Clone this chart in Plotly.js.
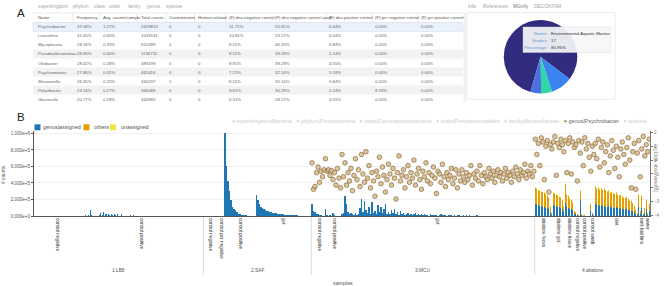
<!DOCTYPE html>
<html><head><meta charset="utf-8">
<script src="https://cdn.plot.ly/plotly-3.0.1.min.js"></script>
<style>html,body{margin:0;padding:0;background:#fff;}#chart{width:665px;height:286px;}</style>
</head><body><div id="chart"></div>
<script>
// ---------------- Panel A: table ----------------
const taxTabs = ['superkingdom','phylum','class','order','family','genus','species'];
const infoTabs = ['Info','References','MGnify','DECONTAM'];
const tableColumns = ['Name','Frequency','Avg. counts/sample','Total counts','Contaminants','Human-related','(F) dna negative control','(F) dna negative control swab','(F) dna positive control','(F) pcr negative control','(F) pcr positive control'];
const genusNames = ['Psychrobacter','Leucothrix','Mycoplasma','Pseudoalteromonas','Oleibacter','Psychromonas','Shewanella','Polaribacter','Glaciecola'];
const genusFrequency = ['37.08%','31.65%','28.16%','28.90%','28.42%','27.86%','26.35%','23.14%','20.77%'];
const genusAvgCounts = ['1.27%','0.60%','0.33%','0.60%','0.28%','0.31%','0.25%','0.27%','0.18%'];
const genusTotalCounts = ['2459813','1033531','612499','1136731','489199','465416','340237','366088','342893'];
const genusContaminants = ['0','0','0','0','0','0','1','0','0'];
const genusHumanRelated = ['0','0','0','0','0','0','0','0','0'];
const dnaNegControl = ['11.71%','10.81%','8.11%','8.11%','8.91%','7.21%','8.11%','9.61%','6.31%'];
const dnaNegControlSwab = ['55.65%','53.57%','46.43%','39.29%','39.29%','32.14%','32.14%','30.29%','28.57%'];
const dnaPosControl = ['6.44%','6.04%','6.84%','5.24%','4.55%','5.59%','6.84%','5.24%','4.55%'];
const pcrNegControl = ['0.00%','0.00%','0.00%','0.00%','0.00%','0.00%','0.00%','8.33%','0.00%'];
const pcrPosControl = ['0.00%','0.00%','0.00%','0.00%','0.00%','0.00%','0.00%','0.00%','0.00%'];

// ---------------- Panel A: pie (MGnify biomes) ----------------
const biomeNames = ['Environmental:Aquatic:Marine','Environmental:Aquatic:Marine:Coastal','Host-associated:Mammals','Environmental:Aquatic:Freshwater'];
const biomeStudies = [17, 2, 1, 1];
const biomeColors = ['#312c7e','#3c83f2','#2fd6a6','#4a70e2'];

// ---------------- Panel B: samples ----------------
const projects = ['1.LB8','2.SAF','3.MCU','4.abalone'];
const lb8Types = ['control negative','control positive'];
const lb8TypeCounts = [31, 82];
const safTypes = ['control negative','control pcr negative','control positive','gut'];
const safTypeCounts = [10, 4, 21, 37];
const mcuTypes = ['control negative','control positive','gut'];
const mcuTypeCounts = [11, 9, 129];
const abaloneTypes = ['abalone feces','abalone gut','abalone tissue','control negative','control positive','control swab','diet','tank biofilms','water'];
const abaloneTypeCounts = [12, 8, 7, 3, 7, 3, 29, 5, 3];

// genus|assigned counts (thousands) per sample
const lb8Assigned = [0,0,0,0,0,0,0,0,0,0,0,0,0,0,0,0,0,0,0,0,0,0,0,0,0,0,0,0,0,0,0,
  0,0,0,8,3,15,70,12,4,2,0,3,10,42,8,48,20,26,30,18,26,14,24,10,22,6,4,20,3,2,5,1,2,9,2,8,1,
  0,0,0,0,0,0,0,0,0,0,0,0,0,0,0,0,0,0,0,0,0,0,0,0,0,0,0,0,0,0,0,0,0,0,0,0,0,0,0,0,0,0,0,0,0];
const safAssigned = [0,0,0,0,0,0,0,0,0,0, 0,0,0,0,
  1010,600,420,300,200,110,80,70,45,30,20,15,12,10,8,6,5,4,3,2,2,
  255,190,140,115,100,85,75,65,55,50,45,40,38,35,30,28,25,22,20,18,16,14,12,11,10,9,8,7,6,5,5,4,3,3,2,2,1];
const mcuAssigned = [150,60,45,30,20,12,8,6,4,90,10, 5,10,3,40,8,2,4,2,3,
  20,35,240,150,50,25,40,20,12,35,15,25,100,210,50,180,70,35,110,25,170,40,60,20,130,50,115,35,80,150,
  30,50,20,70,40,85,25,45,18,60,20,35,12,25,40,18,30,12,20,35,10,25,15,20,8,30,12,18,6,24,
  10,15,8,18,6,12,20,8,10,15,5,12,7,16,6,10,4,8,12,5,6,10,3,7,5,8,4,6,2,5,
  8,3,4,6,2,4,6,2,3,5,2,3,4,2,2,3,2,2,2,1,2,2,1,2,1,2,1,1,2,1,1,1,0,1,0,1,0,0,1];
const abaloneAssigned = [150,140,130,120,125,110,115,100,95,90,50,15, 130,120,125,110,105,100,90,50,
  160,110,100,90,85,70,25, 30,15,5, 200,12,6,5,3,2,2, 60,20,5,
  140,130,135,125,130,120,125,115,110,118,105,110,100,98,104,95,90,96,88,85,80,86,76,70,65,58,44,30,15,
  110,25,100,12,40, 80,15,60];
const abaloneOthers = [185,183,176,180,163,175,159,161,150,132,65,23, 148,150,134,131,125,121,102,65,
  225,150,140,122,107,93,32, 17,13,4, 105,7,3,3,2,2,1, 85,18,5,
  208,200,204,195,203,191,200,186,182,187,177,176,173,165,173,158,154,162,146,139,135,143,129,115,111,98,73,48,24,
  150,33,142,17,57, 114,24,85];
const abaloneUnassigned = [15,12,14,10,12,10,11,9,10,8,5,2, 12,10,11,9,10,9,8,5,
  15,10,10,8,8,7,3, 3,2,1, 5,1,1,0,0,0,0, 5,2,0,
  12,10,11,10,12,9,10,9,8,10,8,9,7,7,8,7,6,7,6,6,5,6,5,5,4,4,3,2,1,
  10,2,8,1,3, 6,1,5];

// genus|Psychrobacter, log10(% observations) per sample
const mcuPsychro = [-0.2,-2.1,-1.9,-0.9,-0.5,-1.6,-0.8,-1.2,-0.7,0.1,-0.8,
  -0.7,-1.1,-0.75,-1.4,-0.9,-1.8,-0.6,-1.3,-2.0,
  0.4,-1.2,-0.2,-1.8,-0.9,-1.5,-0.6,-2.2,-1.1,0.1,
  -1.4,-0.7,-1.9,0.4,-1.0,-1.6,0.6,-1.3,-0.4,-2.0,
  -0.9,-1.5,-2.6,-0.8,-1.2,0.2,-1.7,-0.5,-1.1,-2.3,
  -1.4,-0.3,-1.0,-1.8,-0.6,-1.3,-2.8,-0.9,0.3,-1.5,
  -1.1,-0.7,-2.0,-1.2,-0.4,-1.6,-0.9,-1.3,0.0,-1.8,
  -1.0,-0.6,-1.4,-2.1,-0.8,-1.2,-0.2,-1.5,-0.9,-1.7,
  -1.1,-0.5,-1.3,-2.4,-0.8,-1.0,-1.6,-0.3,-1.2,-1.9,
  -0.9,-1.4,-1.1,-0.6,-1.7,-1.3,-0.7,-2.0,-1.0,-1.5,
  -0.7,-1.2,-1.6,-0.9,-1.4,-1.1,-0.4,-1.8,-1.0,-1.3,
  -0.8,-1.5,-0.4,-1.1,-1.7,-0.9,-1.2,-1.4,-0.6,-1.0,
  -1.3,-0.8,-1.6,-1.1,-0.7,-1.2,-0.9,-1.5,-1.0,-0.6,
  -1.3,-0.9,-1.1,-1.6,-0.8,-1.2,-0.5,-1.0,-1.4,-0.7,
  -1.1,-0.9,-0.3,-1.3,-0.8,-1.0,-0.4,-1.2,-0.8];
const abalonePsychro = [1.5,0.4,1.2,-0.4,1.6,1.3,-1.4,1.0,1.4,-2.3,1.1,0.8,
  1.3,1.7,-1.1,1.2,0.9,1.5,1.1,0.6,
  1.4,-0.9,1.2,1.6,-1.0,1.3,0.9,
  1.1,-1.5,1.4,
  0.5,1.3,-0.4,1.6,0.8,1.2,0.2,
  -0.8,1.0,0.4,
  1.2,0.1,1.5,-0.5,0.9,1.3,-0.2,0.6,1.1,-0.9,0.3,1.4,0.7,-0.6,1.0,0.2,-1.2,0.8,1.3,0.4,-0.3,0.9,1.6,0.0,-2.0,0.6,1.2,-2.1,0.5,
  1.4,-1.2,0.8,1.7,0.3,
  1.1,0.6,1.5];

const barLegend = ['genus|assigned','others','unassigned'];
const barColors = ['#1f77b4','#e69f00','#f0e442'];
const taxLegend = ['superkingdom|Bacteria','phylum|Proteobacteria','class|Gammaproteobacteria','order|Pseudomonadales','family|Moraxellaceae','genus|Psychrobacter','species'];
const tooltipLabels = ['Biome:','Studies:','Percentage:'];

// ---------------- build ----------------
const FONT = 'Liberation Sans, Arial, sans-serif';
const W = 665, H = 286;
const P = x => x / W, Q = y => 1 - y / H;
function note(x, y, text, size, color, extra) {
  return Object.assign({xref:'paper', yref:'paper', x:P(x), y:Q(y), text:text, showarrow:false,
    xanchor:'left', yanchor:'middle', borderpad:0, font:{family:FONT, size:size, color:color}}, extra || {});
}
const annotations = [], shapes = [];

// panel labels
annotations.push(note(21, 13.3, 'A', 11.5, '#222', {xanchor:'center'}));
annotations.push(note(21, 117, 'B', 11.5, '#222', {xanchor:'center'}));

// tabs
const taxTabX = [36.7, 71.7, 92.7, 108.3, 126.7, 145.7, 165];
taxTabs.forEach((t,i) => annotations.push(note(taxTabX[i], 6.8, t, 4.8, '#a8a8a8')));
const infoTabX = [467.3, 481.7, 511.5, 533.3];
infoTabs.forEach((t,i) => annotations.push(note(infoTabX[i], 6.8, t, 4.8, i===2 ? '#777' : '#a0a0a0')));

// table
const colX = [36.5, 76, 101.5, 140, 167.5, 196.5, 228, 273.5, 328, 374, 420];
const colSep = [73, 99, 137, 166, 194.5, 226, 272, 326, 372, 418];
const tableLeft = 33, tableRight = 463;
const tableData = [genusNames, genusFrequency, genusAvgCounts, genusTotalCounts, genusContaminants, genusHumanRelated,
  dnaNegControl, dnaNegControlSwab, dnaPosControl, pcrNegControl, pcrPosControl];
genusNames.forEach((g,r) => {
  const y0 = 22.5 + 9*r, y1 = y0 + 9;
  if (r === 0) shapes.push({type:'rect', xref:'paper', yref:'paper', x0:P(tableLeft), x1:P(tableRight), y0:Q(y1), y1:Q(y0), fillcolor:'#e9f1fb', line:{color:'#d3e2f3', width:0.6}, layer:'below'});
  else if (r === 3 || r === 5 || r === 7) shapes.push({type:'rect', xref:'paper', yref:'paper', x0:P(tableLeft), x1:P(tableRight), y0:Q(y1), y1:Q(y0), fillcolor:'#f2f2f2', line:{width:0}, layer:'below'});
});
[13, 22.5].forEach(y => shapes.push({type:'line', xref:'paper', yref:'paper', x0:P(tableLeft), x1:P(tableRight), y0:Q(y), y1:Q(y), line:{color:'#e2e2e2', width:0.7}}));
colSep.forEach(x => shapes.push({type:'line', xref:'paper', yref:'paper', x0:P(x), x1:P(x), y0:Q(13), y1:Q(22.5), line:{color:'#e2e2e2', width:0.7}}));
shapes.push({type:'rect', xref:'paper', yref:'paper', x0:P(463.5), x1:P(466), y0:Q(102), y1:Q(13), fillcolor:'#f0f0f0', line:{width:0}, layer:'below'});
tableColumns.forEach((c,i) => annotations.push(note(colX[i], 17.8, c, 4.3, '#555')));
tableData.forEach((col,i) => col.forEach((v,r) => annotations.push(note(colX[i], 27 + 9*r, v, 4.3, '#666'))));

// pie box + tooltip
shapes.push({type:'rect', xref:'paper', yref:'paper', x0:P(467), x1:P(615), y0:Q(99.3), y1:Q(12.7), line:{color:'#e4e4e4', width:0.8}, layer:'below'});
shapes.push({type:'rect', xref:'paper', yref:'paper', x0:P(523), x1:P(611), y0:Q(52.5), y1:Q(27), fillcolor:'rgba(245,246,248,0.93)', line:{color:'rgba(215,215,215,0.8)', width:0.5}, layer:'above'});
const totalStudies = biomeStudies.reduce((a,b)=>a+b,0);
const tooltipValues = [biomeNames[0], String(biomeStudies[0]), (100*biomeStudies[0]/totalStudies).toFixed(2) + '%'];
tooltipLabels.forEach((l,i) => {
  annotations.push(note(548.8, 33.3 + 6.9*i, l, 4.4, '#5f9bd3', {xanchor:'right'}));
  annotations.push(note(549.8, 33.3 + 6.9*i, tooltipValues[i], 4.4, '#333'));
});

// samples -> positions
const projectTypes = [lb8Types, safTypes, mcuTypes, abaloneTypes];
const projectTypeCounts = [lb8TypeCounts, safTypeCounts, mcuTypeCounts, abaloneTypeCounts];
const projectAssigned = [lb8Assigned, safAssigned, mcuAssigned, abaloneAssigned];
let idx = 0;
const sampleX = [], assignedY = [], tickvals = [], ticktext = [], groupCenters = [], groupBounds = [], projectStart = [];
projects.forEach((p,pi) => {
  const start = idx; projectStart.push(start);
  projectTypes[pi].forEach((t,ti) => { const n = projectTypeCounts[pi][ti]; tickvals.push(idx + (n-1)/2); ticktext.push(t); idx += n; });
  projectAssigned[pi].forEach((v,k) => { sampleX.push(start + k); assignedY.push(v * 1000); });
  groupCenters.push((start + idx - 1) / 2);
  if (pi > 0) groupBounds.push(start - 0.5);
});
const nSamples = idx;
const abX = abaloneAssigned.map((v,k) => projectStart[3] + k);
const traces = [
  {type:'bar', x:sampleX, y:assignedY, marker:{color:barColors[0], line:{width:0}}, hoverinfo:'skip', showlegend:false},
  {type:'bar', x:abX, y:abaloneOthers.map(v=>v*1000), marker:{color:barColors[1], line:{width:0}}, hoverinfo:'skip', showlegend:false},
  {type:'bar', x:abX, y:abaloneUnassigned.map(v=>v*1000), marker:{color:barColors[2], line:{width:0}}, hoverinfo:'skip', showlegend:false},
  {type:'scatter', mode:'markers', yaxis:'y2',
   x:mcuPsychro.map((v,k)=>projectStart[2]+k).concat(abalonePsychro.map((v,k)=>projectStart[3]+k)),
   y:mcuPsychro.concat(abalonePsychro),
   marker:{size:4.6, color:'rgba(212,182,132,0.8)', line:{color:'#8a6a3c', width:0.7}}, hoverinfo:'skip', showlegend:false},
  {type:'pie', values:biomeStudies, labels:biomeNames, marker:{colors:biomeColors, line:{width:0}}, sort:false,
   direction:'clockwise', rotation:196, textinfo:'none', hoverinfo:'skip', showlegend:false,
   domain:{x:[P(503.5), P(577.5)], y:[Q(93.5), Q(20)]}}
];

// group labels & dividers
projects.forEach((p,i) => annotations.push({xref:'x', yref:'paper', x:groupCenters[i], y:Q(274), text:p, showarrow:false, borderpad:0, font:{family:FONT, size:4.8, color:'#555'}}));
groupBounds.forEach(b => shapes.push({type:'line', xref:'x', yref:'paper', x0:b, x1:b, y0:Q(275), y1:Q(217), line:{color:'#dcdcdc', width:1}}));
annotations.push(note(343, 282.5, 'samples', 5.3, '#555', {xanchor:'center'}));
annotations.push(note(3, 175, '# counts', 4.8, '#555', {xanchor:'center', textangle:-90}));
annotations.push(note(655.5, 168, 'log10(% observations)', 4.8, '#888', {xanchor:'center', textangle:90}));

// bar legend
const barLegSq = [34.5, 83.5, 110];
const barLegTx = [42.2, 92.8, 119.8];
barLegend.forEach((l,i) => {
  shapes.push({type:'rect', xref:'paper', yref:'paper', x0:P(barLegSq[i]), x1:P(barLegSq[i]+6), y0:Q(130.3), y1:Q(124.3), fillcolor:barColors[i], line:{width:0}});
  annotations.push(note(barLegTx[i], 127.3, l, 5.4, '#555'));
});
// taxonomy legend
const nb = '\u00a0';
const taxText = taxLegend.map((t,i) => {
  const on = t.startsWith('genus');
  return '<span style="color:' + (on ? '#a3814f' : '#dcd7c9') + '">●</span>' + nb +
         '<span style="color:' + (on ? '#666' : '#cdcdcd') + '">' + t + '</span>';
}).join(nb+nb+nb);
annotations.push(note(230.5, 121, taxText, 5.4, '#ccc'));

const layout = {
  width:W, height:H, margin:{l:0, r:0, t:0, b:0}, paper_bgcolor:'#fff', plot_bgcolor:'#fff',
  barmode:'stack', bargap:0.15, showlegend:false, font:{family:FONT, size:5, color:'#555'},
  xaxis:{domain:[P(34), P(650)], range:[-0.5, nSamples-0.5], tickmode:'array', tickvals:tickvals, ticktext:ticktext,
    tickangle:90, tickfont:{family:FONT, size:4.7, color:'#333'}, showgrid:false, zeroline:false,
    showline:true, linecolor:'#555', linewidth:1, ticks:'', fixedrange:true},
  yaxis:{domain:[Q(216), Q(131)], range:[0, 1.03e6], tickformat:'.3e', tick0:0, dtick:2e5,
    showgrid:true, gridcolor:'#ececec', gridwidth:0.8, zeroline:false, showline:true, linecolor:'#555', linewidth:1,
    ticks:'outside', ticklen:2, tickcolor:'#555', tickfont:{family:FONT, size:4.6, color:'#555'}, fixedrange:true},
  yaxis2:{overlaying:'y', side:'right', anchor:'x', range:[-4.02, 2.09], dtick:1, tick0:0, showgrid:false, zeroline:false,
    showline:true, linecolor:'#777', linewidth:1, ticks:'outside', ticklen:2, tickcolor:'#777',
    tickfont:{family:FONT, size:4.6, color:'#777'}, fixedrange:true},
  shapes:shapes, annotations:annotations
};
Plotly.newPlot('chart', traces, layout, {displayModeBar:false, staticPlot:true});
</script></body></html>
